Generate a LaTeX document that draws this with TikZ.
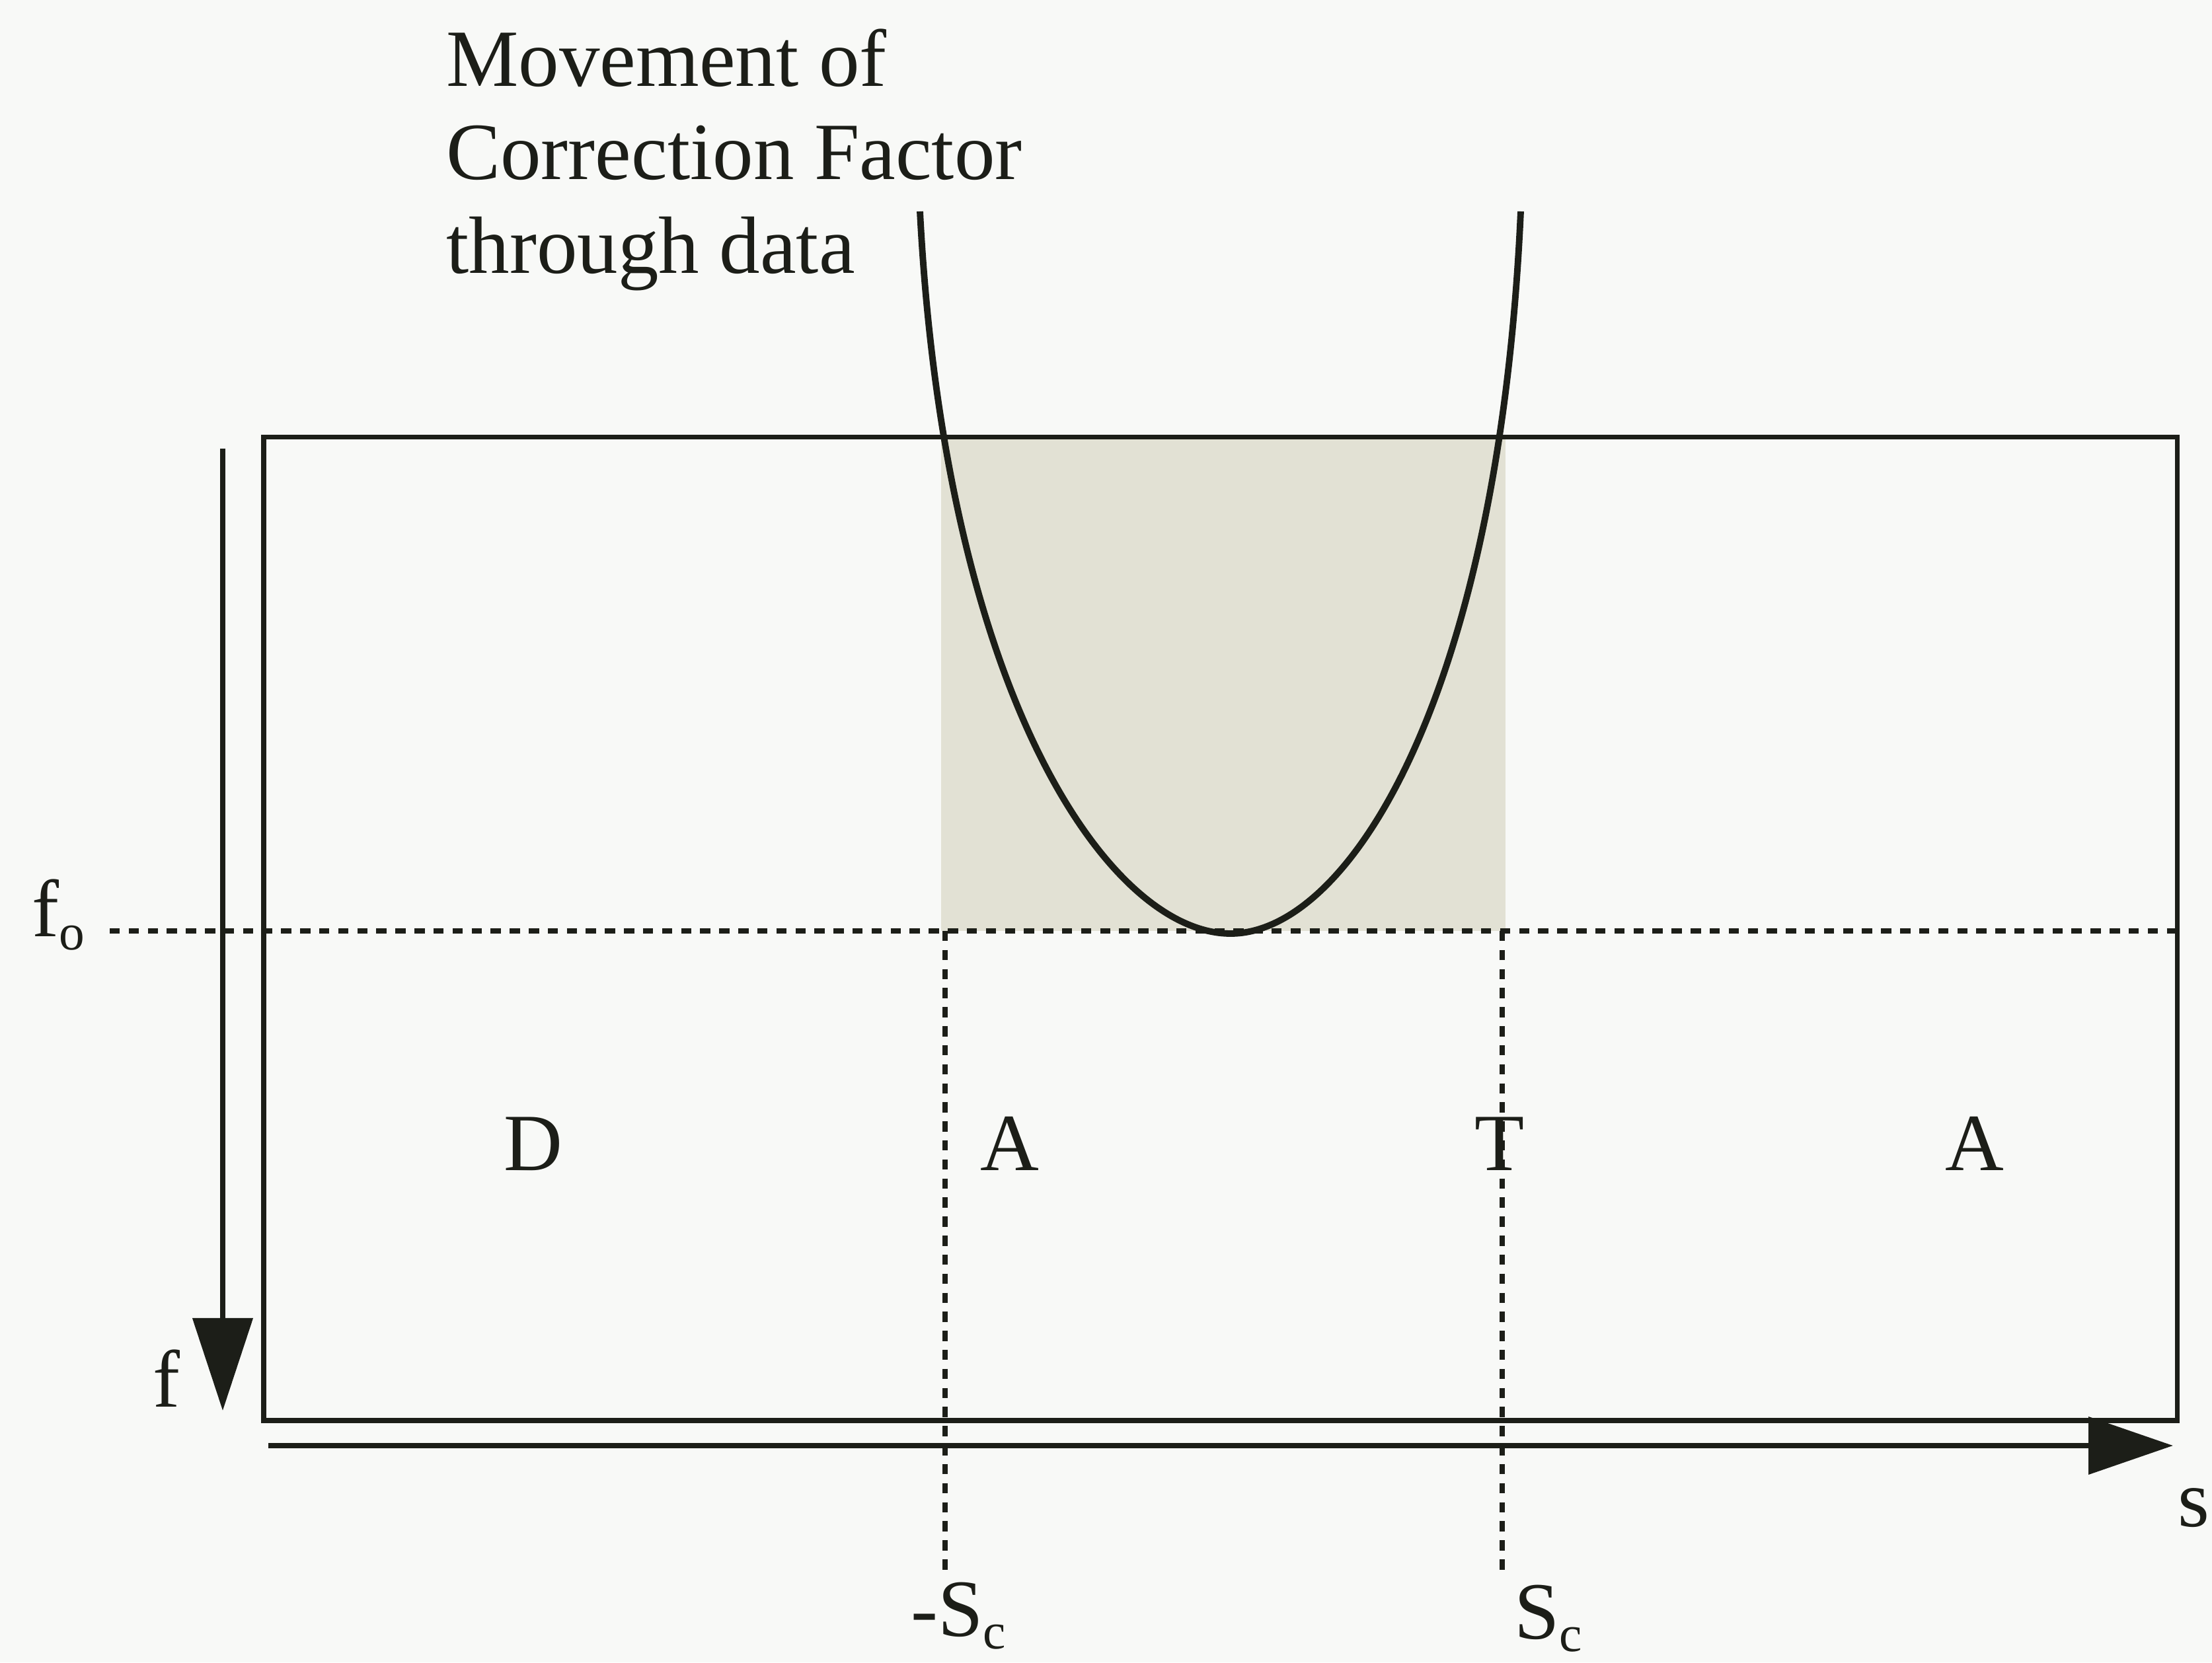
\documentclass[tikz,border=0pt]{standalone}
\usepackage{fontspec}
\setmainfont{Liberation Serif}
\usepackage{tikz}
\usetikzlibrary{arrows.meta,positioning}
\definecolor{paper}{RGB}{248,249,247}
\definecolor{ink}{RGB}{28,30,24}
\definecolor{zoneshade}{RGB}{226,225,212}
\newcommand{\lowsub}[1]{\raisebox{-0.35ex}{\fontsize{11}{11}\selectfont #1}}

\begin{document}
\begin{tikzpicture}[
    every node/.style={font=\fontsize{17.5}{20.2}\selectfont,text=ink,inner sep=0pt},
    frameline/.style={draw=ink,line width=1pt},
    axisline/.style={draw=ink,line width=1.1pt},
    dotline/.style={draw=ink,line width=1.1pt,dash pattern=on 2.2pt off 1.9pt},
    cfcurve/.style={draw=ink,line width=1.4pt}]
  \fill[paper] (0,0) rectangle (16.735,12.58);
  \useasboundingbox (0,0) rectangle (16.735,12.58);
  % shaded zone between -Sc and Sc
  \fill[zoneshade] (7.12,5.535) rectangle (11.39,9.27);
  \draw[frameline] (1.995,1.83) rectangle (16.47,9.27);
  % axes
  \coordinate (ftop) at (1.685,9.185);
  \coordinate (fbot) at (1.685,1.905);
  \coordinate (sleft) at (2.03,1.64);
  \coordinate (sright) at (16.44,1.64);
  \draw[axisline,-{Triangle[length=7mm,width=4.5mm]}] (ftop) -- (fbot);
  \draw[axisline,-{Triangle[length=6.4mm,width=4.3mm]}] (sleft) -- (sright);
  \node[anchor=base west] (flab) at (1.15,1.93) {f};
  \node[anchor=base west] (slab) at (16.47,1.03) {s};
  % f_o level and the +-Sc limits
  \node[anchor=base west] (fo) at (0.235,5.49) {f\lowsub{o}};
  \coordinate (foleft) at (0.83,5.535);
  \coordinate (foright) at (16.49,5.535);
  \draw[dotline] (foleft) -- (foright);
  \node[anchor=base west] (negsc) at (6.885,0.2) {-S\lowsub{c}};
  \node[anchor=base west] (possc) at (11.45,0.18) {S\lowsub{c}};
  \coordinate (negtop) at (7.15,5.535);
  \coordinate (negbot) at (7.15,0.68);
  \coordinate (postop) at (11.365,5.535);
  \coordinate (posbot) at (11.365,0.68);
  \draw[dotline] (negtop) -- (negbot);
  \draw[dotline] (postop) -- (posbot);
  % correction factor
  \coordinate (cfleft) at (6.96,10.98);
  \coordinate (cfmin) at (9.31,5.515);
  \coordinate (cfright) at (11.505,10.98);
  \draw[cfcurve] (cfleft) .. controls (7.15,7.3) and (8.4,5.515) .. (cfmin)
                          .. controls (10.2,5.515) and (11.34,7.3) .. (cfright);
  \node[anchor=north west,align=left] (cfnote) at (3.37,12.37)
       {Movement of\\Correction Factor\\through data};
  % data letters
  \node[anchor=base] (dd) at (4.035,3.72) {D};
  \node[anchor=base] (da) at (7.64,3.72) {A};
  \node[anchor=base] (dt) at (11.345,3.72) {T};
  \node[anchor=base] (db) at (14.94,3.72) {A};
\end{tikzpicture}
\end{document}
